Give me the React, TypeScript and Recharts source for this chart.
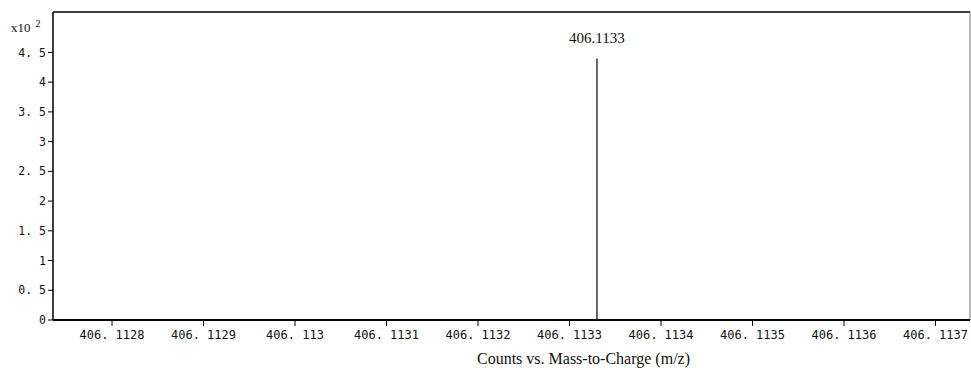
import { LineChart, Line, XAxis, YAxis, ReferenceLine } from "recharts";

// single centroid peak (counts in units of 10^2)
const peakMz = [406.11333, 406.11333];
const peakCounts = [0, 4.4];
const peakLabel = "406.1133";

const xTicks = [
  406.1128, 406.1129, 406.113, 406.1131, 406.1132, 406.1133, 406.1134, 406.1135, 406.1136, 406.1137,
];
const xTickLabels = [
  "406. 1128", "406. 1129", "406. 113", "406. 1131", "406. 1132",
  "406. 1133", "406. 1134", "406. 1135", "406. 1136", "406. 1137",
];
const yTicks = [0, 0.5, 1, 1.5, 2, 2.5, 3, 3.5, 4, 4.5];
const yTickLabels = ["0", "0. 5", "1", "1. 5", "2", "2. 5", "3", "3. 5", "4", "4. 5"];

const xDomain = [406.1127355, 406.1137377];
const yDomain = [0, 5.18];

const data = peakMz.map((mz, i) => ({ mz, counts: peakCounts[i] }));

const serif = "'Liberation Serif', 'Times New Roman', serif";
const mono = "'DejaVu Sans Mono', monospace";

function nearestLabel(v: number, ticks: number[], labels: string[]) {
  let best = 0;
  for (let i = 1; i < ticks.length; i++) {
    if (Math.abs(ticks[i] - v) < Math.abs(ticks[best] - v)) best = i;
  }
  return labels[best];
}

export default function App() {
  return (
    <div style={{ position: "absolute", left: 0, top: 0, background: "#fff" }}>
      <LineChart width={971} height={370} data={data} margin={{ top: 12, right: 1, left: 0, bottom: 0 }}>
        <XAxis
          dataKey="mz"
          type="number"
          domain={xDomain}
          ticks={xTicks}
          allowDataOverflow
          tickFormatter={(v) => nearestLabel(v, xTicks, xTickLabels)}
          tick={{ fontFamily: mono, fontSize: 12, fill: "#111", dy: 2 }}
          tickSize={6}
          axisLine={{ stroke: "#000", strokeWidth: 2 }}
          tickLine={{ stroke: "#000" }}
          height={50}
          label={{
            value: "Counts vs. Mass-to-Charge (m/z)",
            position: "insideBottom",
            offset: 6,
            dx: 72,
            style: { fontFamily: serif, fontSize: 16, fill: "#111" },
          }}
        />
        <YAxis
          type="number"
          domain={yDomain}
          ticks={yTicks}
          allowDataOverflow
          tickFormatter={(v) => nearestLabel(v, yTicks, yTickLabels)}
          tick={{ fontFamily: mono, fontSize: 11.5, fill: "#111" }}
          tickSize={5}
          width={53}
          axisLine={{ stroke: "#000", strokeWidth: 1.5 }}
          tickLine={{ stroke: "#000" }}
          label={{
            content: () => (
              <text x={11} y={32} style={{ fontFamily: serif, fontSize: 13, fill: "#111" }}>
                x10
                <tspan dx={5} dy={-5} fontSize={10}>2</tspan>
              </text>
            ),
          }}
        />
        {/* frame: top and right borders */}
        <ReferenceLine y={yDomain[1]} stroke="#000" strokeWidth={1.5} ifOverflow="visible" />
        <ReferenceLine x={xDomain[1]} stroke="#777" strokeWidth={1} ifOverflow="visible" />
        <Line
          dataKey="counts"
          stroke="#000"
          strokeWidth={1.2}
          dot={false}
          isAnimationActive={false}
          label={(p: any) =>
            p.index === 1 ? (
              <text key="pk" x={p.x} y={p.y - 15} textAnchor="middle" style={{ fontFamily: serif, fontSize: 15, fill: "#111" }}>
                {peakLabel}
              </text>
            ) : (
              <g key={"n" + p.index} />
            )
          }
        />
      </LineChart>
    </div>
  );
}
